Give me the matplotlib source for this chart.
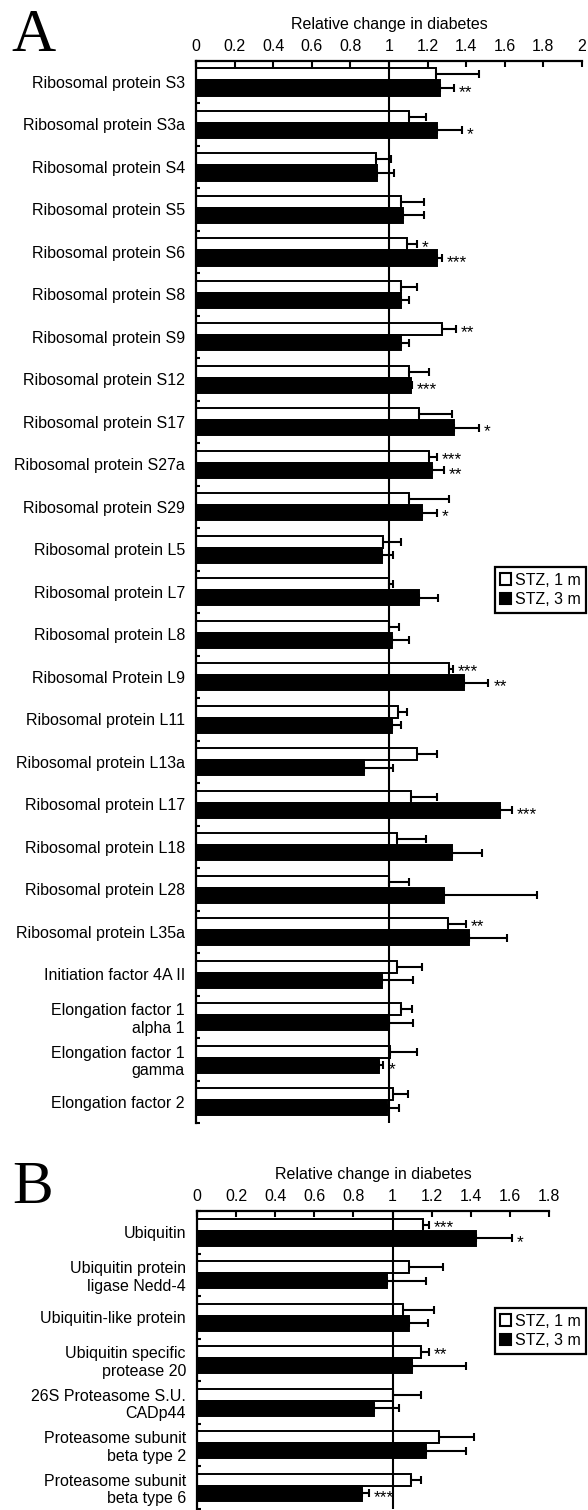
import matplotlib
matplotlib.use("Agg")
import matplotlib.pyplot as plt
import numpy as np
from matplotlib.patches import Patch

plt.rcParams['font.family'] = ['Liberation Sans', 'DejaVu Sans']

# ---------------- Panel A data ----------------
cats_a = ["Ribosomal protein S3", "Ribosomal protein S3a", "Ribosomal protein S4",
          "Ribosomal protein S5", "Ribosomal protein S6", "Ribosomal protein S8",
          "Ribosomal protein S9", "Ribosomal protein S12", "Ribosomal protein S17",
          "Ribosomal protein S27a", "Ribosomal protein S29", "Ribosomal protein L5",
          "Ribosomal protein L7", "Ribosomal protein L8", "Ribosomal Protein L9",
          "Ribosomal protein L11", "Ribosomal protein L13a", "Ribosomal protein L17",
          "Ribosomal protein L18", "Ribosomal protein L28", "Ribosomal protein L35a",
          "Initiation factor 4A II", "Elongation factor 1\nalpha 1",
          "Elongation factor 1\ngamma", "Elongation factor 2"]
stz1_a = [1.243, 1.104, 0.931, 1.060, 1.092, 1.060, 1.276, 1.104, 1.155, 1.209, 1.104,
          0.971, 1.002, 1.000, 1.311, 1.048, 1.143, 1.112, 1.040, 1.000, 1.307,
          1.040, 1.060, 1.005, 1.019]
sem1_a = [0.225, 0.088, 0.079, 0.121, 0.051, 0.083, 0.069, 0.105, 0.170, 0.038, 0.207,
          0.091, 0.020, 0.054, 0.022, 0.044, 0.104, 0.135, 0.152, 0.104, 0.092,
          0.129, 0.057, 0.138, 0.081]
stz3_a = [1.264, 1.247, 0.936, 1.074, 1.247, 1.064, 1.062, 1.112, 1.338, 1.225, 1.169,
          0.962, 1.157, 1.014, 1.390, 1.014, 0.870, 1.575, 1.328, 1.287, 1.416,
          0.962, 1.000, 0.950, 0.988]
sem3_a = [0.073, 0.133, 0.090, 0.107, 0.026, 0.041, 0.042, 0.005, 0.128, 0.060, 0.078,
          0.057, 0.099, 0.090, 0.125, 0.048, 0.152, 0.062, 0.152, 0.480, 0.193,
          0.161, 0.123, 0.021, 0.066]
sig1_a = ["", "", "", "", "*", "", "**", "", "", "***", "", "", "", "", "***",
          "", "", "", "", "", "**", "", "", "", ""]
sig3_a = ["**", "*", "", "", "***", "", "", "***", "*", "**", "*", "", "", "", "**",
          "", "", "***", "", "", "", "", "", "*", ""]
xticks_a = [0, 0.2, 0.4, 0.6, 0.8, 1, 1.2, 1.4, 1.6, 1.8, 2]
xticklabels_a = ["0", "0.2", "0.4", "0.6", "0.8", "1", "1.2", "1.4", "1.6", "1.8", "2"]

# ---------------- Panel B data ----------------
cats_b = ["Ubiquitin", "Ubiquitin protein\nligase Nedd-4", "Ubiquitin-like protein",
          "Ubiquitin specific\nprotease 20", "26S Proteasome S.U.\nCADp44",
          "Proteasome subunit\nbeta type 2", "Proteasome subunit\nbeta type 6"]
stz1_b = [1.156, 1.083, 1.054, 1.148, 1.000, 1.236, 1.092]
sem1_b = [0.031, 0.176, 0.157, 0.039, 0.145, 0.179, 0.056]
stz3_b = [1.425, 0.973, 1.085, 1.097, 0.906, 1.173, 0.842]
sem3_b = [0.187, 0.200, 0.097, 0.281, 0.126, 0.201, 0.037]
sig1_b = ["***", "", "", "**", "", "", ""]
sig3_b = ["*", "", "", "", "", "", "***"]
xticks_b = [0, 0.2, 0.4, 0.6, 0.8, 1, 1.2, 1.4, 1.6, 1.8]
xticklabels_b = ["0", "0.2", "0.4", "0.6", "0.8", "1", "1.2", "1.4", "1.6", "1.8"]

series_names = ["STZ, 1 m", "STZ, 3 m"]
xlabel = "Relative change in diabetes"

W, H = 588, 1510
fig = plt.figure(figsize=(W / 100, H / 100), dpi=100)
FS = 11.5
STAR_FS = 12.5


def panel(rect, cats, v1, e1, v3, e3, s1, s3, xmax, ticks, ticklabels, leg_y):
    l, t, r, b = rect
    ax = fig.add_axes([l / W, 1 - b / H, (r - l) / W, (b - t) / H])
    n = len(cats)
    y = np.arange(n)
    yw = y - 0.18
    yb = y + 0.14
    ax.barh(yw, v1, height=0.28, color='white', edgecolor='black', linewidth=1.4, zorder=2)
    ax.barh(yb, v3, height=0.36, color='black', edgecolor='black', linewidth=1.4, zorder=2)
    ax.axvline(1, color='black', lw=1.5, zorder=2.5)
    ax.errorbar(v1, yw, xerr=[np.zeros(n), e1], fmt='none', ecolor='black',
                elinewidth=1.5, capsize=3, capthick=1.5, zorder=3)
    ax.errorbar(v3, yb, xerr=[np.zeros(n), e3], fmt='none', ecolor='black',
                elinewidth=1.5, capsize=3, capthick=1.5, zorder=3)
    for i in range(n):
        if s1[i]:
            ax.annotate(s1[i], xy=(v1[i] + e1[i], yw[i]), xytext=(3.5, -1.0),
                        textcoords='offset points', ha='left', va='center_baseline',
                        fontsize=STAR_FS)
        if s3[i]:
            ax.annotate(s3[i], xy=(v3[i] + e3[i], yb[i]), xytext=(3.5, -2.0),
                        textcoords='offset points', ha='left', va='center_baseline',
                        fontsize=STAR_FS)
    ax.set_xlim(0, xmax)
    ax.set_ylim(n - 0.5, -0.5)
    ax.xaxis.tick_top()
    ax.xaxis.set_label_position('top')
    ax.set_xticks(ticks)
    ax.set_xticklabels(ticklabels, fontsize=FS)
    ax.set_xlabel(xlabel, fontsize=FS, labelpad=7)
    ax.tick_params(axis='x', direction='in', length=4, width=1.5, pad=5)
    ax.set_yticks(y)
    ax.set_yticklabels(cats, fontsize=FS)
    ax.tick_params(axis='y', which='major', length=0, pad=8)
    ax.set_yticks(np.arange(n + 1) - 0.5, minor=True)
    ax.tick_params(axis='y', which='minor', direction='in', length=3, width=1.5)
    for sp in ['right', 'bottom']:
        ax.spines[sp].set_visible(False)
    for sp in ['top', 'left']:
        ax.spines[sp].set_linewidth(1.6)
    handles = [Patch(facecolor='white', edgecolor='black', linewidth=1.5),
               Patch(facecolor='black', edgecolor='black', linewidth=1.5)]
    leg = ax.legend(handles, series_names, loc='center right',
                    bbox_to_anchor=(586 / W, 1 - leg_y / H), bbox_transform=fig.transFigure,
                    frameon=True, fancybox=False, edgecolor='black', framealpha=1,
                    handlelength=0.7, handleheight=0.7, handletextpad=0.2,
                    borderpad=0.35, labelspacing=0.3, borderaxespad=0, fontsize=FS)
    leg.get_frame().set_linewidth(1.6)
    return ax


panel((196, 60.7, 582, 1123), cats_a, stz1_a, sem1_a, stz3_a, sem3_a, sig1_a, sig3_a,
      2.0, xticks_a, xticklabels_a, 590)
panel((197, 1211, 549, 1508.5), cats_b, stz1_b, sem1_b, stz3_b, sem3_b, sig1_b, sig3_b,
      1.8, xticks_b, xticklabels_b, 1331)

fig.text(11 / W, 1 - 51 / H, "A", fontsize=44, family='Liberation Serif',
         ha='left', va='baseline')
fig.text(12 / W, 1 - 1203 / H, "B", fontsize=44, family='Liberation Serif',
         ha='left', va='baseline')

fig.savefig("out.png", dpi=100)
